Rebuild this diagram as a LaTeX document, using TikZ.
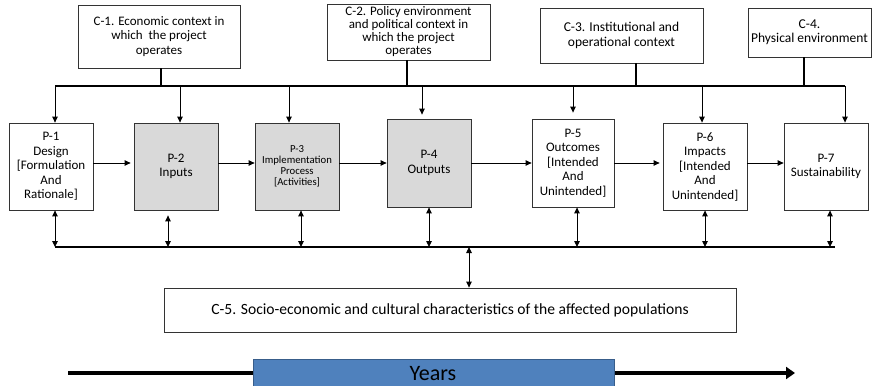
\documentclass[tikz,border=0pt]{standalone}
\usepackage{fontspec}
\setmainfont{Carlito}
\usetikzlibrary{arrows.meta}
\definecolor{boxgray}{RGB}{217,217,217}
\definecolor{yearblue}{RGB}{79,129,189}
\definecolor{yearedge}{RGB}{56,93,138}
\begin{document}
\begin{tikzpicture}[x=1pt,y=-1pt,
  box/.style={draw=black!80, line width=0.8pt, align=center, inner sep=0pt, text=black,
    font=\fontsize{13}{14.5}\selectfont},
  pbox/.style={box, minimum width=84pt, minimum height=87pt},
  gbox/.style={pbox, fill=boxgray},
  bus/.style={line width=2pt},
  arr/.style={line width=0.9pt, -{Triangle[width=5.5pt,length=6pt]}},
  darr/.style={line width=0.9pt, {Triangle[width=5.5pt,length=6pt]}-{Triangle[width=5.5pt,length=6pt]}},
  yarr/.style={line width=4pt, -{Triangle[width=12pt,length=9pt]}}]
\useasboundingbox (0,0) rectangle (874,385);
\clip (0,0) rectangle (874,385);

% context boxes
\node[box, minimum width=162pt, minimum height=63pt] (C1) at (159,36.5)
  {C-1. Economic context in\\which\ \ the project\\operates};
\node[box, minimum width=163pt, minimum height=56pt, font=\fontsize{13}{13}\selectfont] (C2) at (408.5,32)
  {C-2. Policy environment\\and political context in\\which the project\\operates};
\node[box, minimum width=163pt, minimum height=55pt, font=\fontsize{13.5}{14.5}\selectfont] (C3) at (621.5,35.5)
  {C-3. Institutional and\\operational context};
\node[box, minimum width=123pt, minimum height=49pt, font=\fontsize{13.5}{14}\selectfont] (C4) at (809.5,32.5)
  {C-4.\\Physical environment};

% process boxes
\node[pbox] (P1) at (51,166.5) {P-1\\Design\\{[}Formulation\\And\\Rationale]};
\node[gbox] (P2) at (176,166.5) {P-2\\Inputs};
\node[gbox, font=\fontsize{10.7}{11}\selectfont] (P3) at (297,166.5) {P-3\\Implementation\\Process\\{[}Activities]};
\node[gbox, minimum height=88pt] (P4) at (429,163) {P-4\\Outputs};
\node[pbox, minimum width=82pt, minimum height=88pt] (P5) at (573,163) {P-5\\Outcomes\\{[}Intended\\And\\Unintended]};
\node[pbox] (P6) at (705,166.5) {P-6\\Impacts\\{[}Intended\\And\\Unintended]};
\node[pbox] (P7) at (826,166.5) {P-7\\Sustainability};

\node[box, minimum width=572pt, minimum height=44pt, font=\fontsize{15.6}{17}\selectfont] (C5) at (450,310)
  {C-5. Socio-economic and cultural characteristics of the affected populations};

% top bus
\coordinate (t1) at (55,86);
\coordinate (t2) at (180,86);
\coordinate (t3) at (289,86);
\coordinate (t4) at (422,86);
\coordinate (t5) at (573,86);
\coordinate (t6) at (702,86);
\coordinate (t7) at (845,86);
\coordinate (s1) at (161,86);
\coordinate (s2) at (407,86);
\coordinate (s3) at (636,86);
\coordinate (s4) at (804,86);
\draw[bus] (t1) -- (t7);
\draw[bus] (s1 |- C1.south) -- (s1);
\draw[bus] (s2 |- C2.south) -- (s2);
\draw[bus] (s3 |- C3.south) -- (s3);
\draw[bus] (s4 |- C4.south) -- (s4);
\draw[arr] (t1) -- (t1 |- P1.north);
\draw[arr] (t2) -- (t2 |- P2.north);
\draw[arr] (t3) -- (t3 |- P3.north);
\draw[arr] (t4) -- ([yshift=4pt]t4 |- P4.north);
\draw[arr] (t5) -- ([yshift=6pt]t5 |- P5.north);
\draw[arr] (t6) -- (t6 |- P6.north);
\draw[arr] (t7) -- (t7 |- P7.north);

% horizontal flow
\coordinate (h) at (0,163);
\draw[arr] (P1.east |- h) -- ([xshift=-3pt]P2.west |- h);
\draw[arr] (P2.east |- h) -- (P3.west |- h);
\draw[arr] (P3.east |- h) -- (P4.west |- h);
\draw[arr] (P4.east |- h) -- (P5.west |- h);
\draw[arr] (P5.east |- h) -- ([xshift=-3pt]P6.west |- h);
\draw[arr] (P6.east |- h) -- (P7.west |- h);

% bottom bus
\coordinate (b1) at (55,247);
\coordinate (b2) at (168,247);
\coordinate (b3) at (301,247);
\coordinate (b4) at (429,247);
\coordinate (b5) at (577,247);
\coordinate (b6) at (705,247);
\coordinate (b7) at (835,247);
\coordinate (b7a) at (830,247);
\coordinate (bc) at (469,247);
\draw[bus] (b1) -- (b7);
\draw[darr] (b1 |- P1.south) -- (b1);
\draw[darr] ([yshift=-5pt]b2 |- P2.south) -- (b2);
\draw[darr] (b3 |- P3.south) -- (b3);
\draw[darr] (b4 |- P4.south) -- (b4);
\draw[darr] (b5 |- P5.south) -- (b5);
\draw[darr] (b6 |- P6.south) -- (b6);
\draw[darr] (b7a |- P7.south) -- (b7a);
\draw[darr] (bc) -- (bc |- C5.north);

% years
\coordinate (yl) at (68,373);
\coordinate (yr) at (795,373);
\draw[yarr] (yl) -- (yr);
\node[draw=yearedge, line width=1pt, fill=yearblue, minimum width=361pt, minimum height=34pt,
  inner sep=0pt, anchor=north west] (Y) at (252.5,358.5) {};
\node[font=\fontsize{22}{24}\selectfont, text=black] (Yt) at (433,373.5) {Years};
\end{tikzpicture}
\end{document}
